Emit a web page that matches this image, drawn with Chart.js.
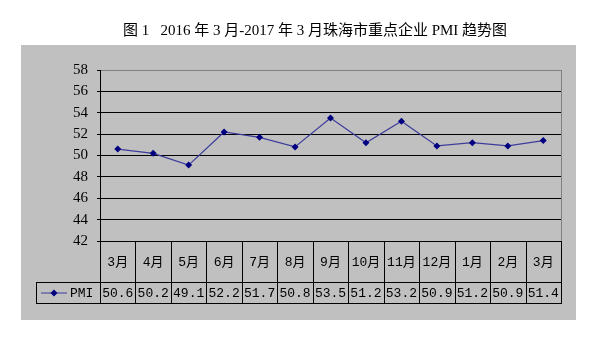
<!DOCTYPE html>
<html>
<head>
<meta charset="utf-8">
<script src="https://cdn.jsdelivr.net/npm/chart.js@4.4.1/dist/chart.umd.min.js"></script>
<style>
  body { margin: 0; background: #fff; }
  #wrap { width: 600px; height: 343px; }
</style>
</head>
<body>
<div id="wrap"><canvas id="pmiChart" width="600" height="343"></canvas></div>
<script>
// dados
const titulo = '图 1   2016 年 3 月-2017 年 3 月珠海市重点企业 PMI 趋势图';
const meses = ['3月', '4月', '5月', '6月', '7月', '8月', '9月', '10月', '11月', '12月', '1月', '2月', '3月'];
const valoresPMI = [50.6, 50.2, 49.1, 52.2, 51.7, 50.8, 53.5, 51.2, 53.2, 50.9, 51.2, 50.9, 51.4];
const nomeSerie = 'PMI';
const eixoY = { min: 42, max: 58, passo: 2 };

const corLinha = '#3c3c9c';
const corPonto = '#000080';

// fundo cinza, título e tabela de dados embaixo
const tabelaPlugin = {
  id: 'tabela',
  beforeDraw(chart) {
    const ctx = chart.ctx;
    ctx.save();
    ctx.fillStyle = '#fff';
    ctx.fillRect(0, 0, chart.width, chart.height);
    ctx.fillStyle = '#c0c0c0';
    ctx.fillRect(21, 45, 555, 275);
    ctx.fillStyle = '#000';
    ctx.font = '15px "Liberation Serif", "Noto Sans CJK SC"';
    ctx.textAlign = 'center';
    ctx.textBaseline = 'middle';
    ctx.fillText(titulo, 315, 31);
    ctx.restore();
  },
  afterDraw(chart) {
    const ctx = chart.ctx;
    const area = chart.chartArea;
    const x = chart.scales.x;
    const meio = (x.getPixelForValue(1) - x.getPixelForValue(0)) / 2;
    const linha1 = area.bottom + 41;
    const linha2 = linha1 + 21;
    const legendaEsq = 36;

    ctx.save();
    // borda cinza do plot
    ctx.strokeStyle = '#808080';
    ctx.lineWidth = 1;
    ctx.beginPath();
    ctx.moveTo(area.right + 0.5, area.top);
    ctx.lineTo(area.right + 0.5, area.bottom);
    ctx.stroke();

    ctx.strokeStyle = '#000';
    ctx.beginPath();
    // horizontais
    ctx.moveTo(area.left, area.bottom + 0.5);
    ctx.lineTo(area.right + 1, area.bottom + 0.5);
    ctx.moveTo(legendaEsq, linha1 + 0.5);
    ctx.lineTo(area.right + 1, linha1 + 0.5);
    ctx.moveTo(legendaEsq, linha2 + 0.5);
    ctx.lineTo(area.right + 1, linha2 + 0.5);
    // verticais
    meses.forEach((m, i) => {
      const xi = Math.round(x.getPixelForValue(i) + meio) + 0.5;
      ctx.moveTo(xi, area.bottom);
      ctx.lineTo(xi, linha2 + 1);
    });
    ctx.moveTo(Math.round(area.left) + 0.5, area.top);
    ctx.lineTo(Math.round(area.left) + 0.5, linha2 + 1);
    ctx.moveTo(legendaEsq + 0.5, linha1);
    ctx.lineTo(legendaEsq + 0.5, linha2 + 1);
    ctx.stroke();

    // textos
    ctx.fillStyle = '#000';
    ctx.textAlign = 'center';
    ctx.textBaseline = 'middle';
    ctx.font = '13px "Liberation Mono", "Noto Sans CJK SC"';
    meses.forEach((m, i) => {
      ctx.fillText(m, x.getPixelForValue(i), (area.bottom + linha1) / 2 + 1);
    });
    valoresPMI.forEach((v, i) => {
      ctx.fillText(v.toFixed(1), x.getPixelForValue(i), (linha1 + linha2) / 2 + 1);
    });

    // legenda
    const ly = (linha1 + linha2) / 2 + 0.5;
    ctx.strokeStyle = corLinha;
    ctx.beginPath();
    ctx.moveTo(41, ly);
    ctx.lineTo(67, ly);
    ctx.stroke();
    ctx.fillStyle = corPonto;
    ctx.beginPath();
    ctx.moveTo(54, ly - 3.5);
    ctx.lineTo(57.5, ly);
    ctx.lineTo(54, ly + 3.5);
    ctx.lineTo(50.5, ly);
    ctx.closePath();
    ctx.fill();
    ctx.fillStyle = '#000';
    ctx.textAlign = 'left';
    ctx.fillText(nomeSerie, 70, ly + 0.5);
    ctx.restore();
  }
};

new Chart(document.getElementById('pmiChart'), {
  type: 'line',
  data: {
    labels: meses,
    datasets: [{
      label: nomeSerie,
      data: valoresPMI,
      borderColor: corLinha,
      borderWidth: 1.2,
      pointStyle: 'rectRot',
      pointRadius: 3.5,
      pointBackgroundColor: corPonto,
      pointBorderColor: corPonto,
      pointBorderWidth: 0,
      tension: 0
    }]
  },
  options: {
    responsive: false,
    animation: false,
    layout: { padding: { left: 21, right: 39, top: 70, bottom: 102 } },
    plugins: {
      legend: { display: false },
      title: { display: false },
      tooltip: { enabled: false }
    },
    scales: {
      x: {
        display: false,
        offset: true
      },
      y: {
        min: eixoY.min,
        max: eixoY.max,
        afterFit(scale) { scale.width = 79; },
        ticks: {
          stepSize: eixoY.passo,
          color: '#000',
          padding: 9,
          font: { family: '"Liberation Serif"', size: 15 }
        },
        grid: {
          color: ctx => ctx.tick && ctx.tick.value === eixoY.max ? '#808080' : '#000',
          tickLength: 3,
          tickColor: '#000'
        },
        border: { color: '#000' }
      }
    }
  },
  plugins: [tabelaPlugin]
});
</script>
</body>
</html>
